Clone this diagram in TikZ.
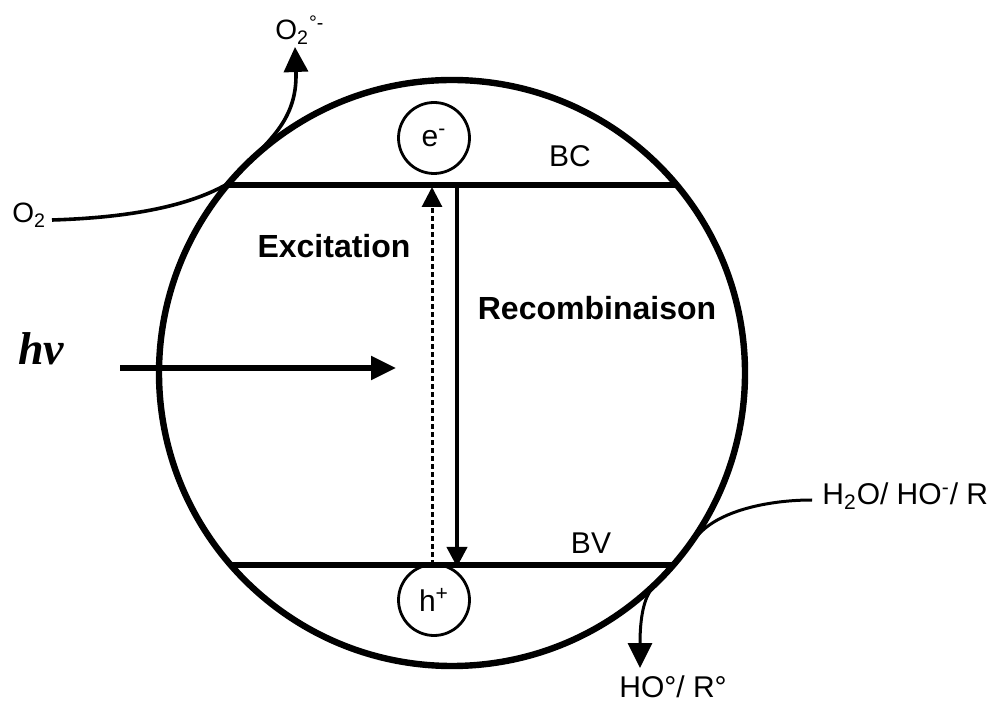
\documentclass[tikz,border=0pt]{standalone}
\usepackage{fontspec}
\setmainfont{Liberation Sans}
\newfontfamily\serifhv{Liberation Serif}
\usetikzlibrary{arrows.meta}
\begin{document}
\begin{tikzpicture}[x=0.5pt,y=-0.5pt,
  lbl/.style={font=\fontsize{15}{18}\selectfont, inner sep=0pt},
  slbl/.style={font=\fontsize{14}{17}\selectfont, inner sep=0pt},
  blbl/.style={font=\fontsize{16}{19}\selectfont\bfseries, inner sep=0pt},
  band/.style={line width=3pt},
  carrier/.style={draw, circle, line width=1.4pt, minimum size=35.5pt, inner sep=0pt, font=\fontsize{15}{18}\selectfont},
  bigtip/.style={-{Triangle[width=12pt,length=12.5pt]}},
  smalltip/.style={-{Triangle[width=10pt,length=10pt]}},
  react/.style={line width=1.8pt, bigtip}
]
\useasboundingbox (0,0) rectangle (1000,704);
% particle
\coordinate (c) at (452,373);
\draw[line width=3.2pt] (c) circle[radius=293];
% bands
\coordinate (bcL) at (227,185);
\coordinate (bcR) at (675,185);
\coordinate (bvL) at (229,565);
\coordinate (bvR) at (673,565);
\draw[band] (bcL) -- (bcR);
\draw[band] (bvL) -- (bvR);
\node[lbl, anchor=base] (BC) at (570,167) {BC};
\node[lbl, anchor=base] (BV) at (591,553) {BV};
% carriers
\node[carrier] (e) at (434,138) {e\textsuperscript{-}};
\node[carrier] (h) at (434,600) {h\textsuperscript{+}};
% excitation / recombination
\coordinate (exS) at (432,565);
\coordinate (exE) at (432,187);
\draw[line width=1.5pt, dash pattern=on 2.5pt off 1.5pt, smalltip] (exS) -- (exE);
\coordinate (reS) at (457,187);
\coordinate (reE) at (457,567);
\draw[line width=2pt, smalltip] (reS) -- (reE);
\node[blbl, anchor=base] (exc) at (334,258) {Excitation};
\node[blbl, anchor=base] (rec) at (597,320) {Recombinaison};
% light
\node[inner sep=0pt, anchor=base west, font=\fontsize{23}{26}\serifhv\bfseries\itshape] (hv) at (18,365) {hv};
\coordinate (hvS) at (120,368);
\coordinate (hvE) at (396,368);
\draw[line width=2.6pt, -{Triangle[width=11.5pt,length=12.5pt]}] (hvS) -- (hvE);
% oxygen reduction
\node[slbl, anchor=base west] (O2) at (12,223) {O\textsubscript{2}};
\node[slbl, anchor=base west] (O2m) at (275,40) {O\textsubscript{2}\textsuperscript{°-}};
\coordinate (o2s) at (52,220);
\coordinate (o2t) at (295,47);
\draw[react] (o2s) .. controls (150,217) and (200,200) .. (229,183)
  .. controls (262,145) and (298,125) .. (o2t);
% oxidation
\node[lbl, anchor=base west] (H2O) at (822,505) {H\textsubscript{2}O/ HO\textsuperscript{-}/ R};
\node[lbl, anchor=base west] (HO) at (619,697) {HO°/ R°};
\coordinate (h2s) at (812,500);
\coordinate (h2t) at (640,668);
\draw[line width=1.5pt, bigtip] (h2s) .. controls (770,500) and (722,510) .. (700,533)
  .. controls (682,552) and (666,572) .. (651,590)
  .. controls (642,602) and (640,625) .. (h2t);
\end{tikzpicture}
\end{document}
